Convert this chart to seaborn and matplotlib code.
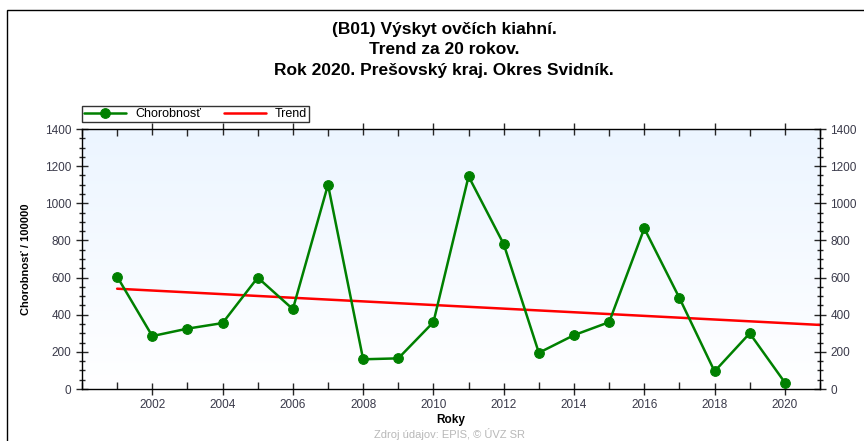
import numpy as np
import matplotlib
matplotlib.use('Agg')
import matplotlib.pyplot as plt
from matplotlib.patches import Rectangle
from matplotlib.ticker import MultipleLocator
import seaborn as sns

# data
years = [2001, 2002, 2003, 2004, 2005, 2006, 2007, 2008, 2009, 2010,
         2011, 2012, 2013, 2014, 2015, 2016, 2017, 2018, 2019, 2020]
chorobnost = [605, 285, 325, 355, 600, 430, 1100, 160, 165, 360,
              1145, 780, 195, 290, 360, 865, 490, 95, 300, 35]
# trend line end points (as drawn in the reference)
trend_years = [2001, 2021]
trend_values = [540, 345]

title = ('(B01) Výskyt ovčích kiahní.\n'
         'Trend za 20 rokov.\n'
         'Rok 2020. Prešovský kraj. Okres Svidník.')

sns.set_style('white')
plt.rcParams['font.family'] = ['Liberation Sans', 'DejaVu Sans']
plt.rcParams['text.color'] = 'black'
plt.rcParams['axes.labelcolor'] = 'black'

fig = plt.figure(figsize=(8.64, 4.41), dpi=100)
ax = fig.add_axes([82/864, 1-389/441, (820-82)/864, (389-129)/441])

# light blue -> white gradient background
grad = np.linspace(0, 1, 256).reshape(-1, 1)
top = np.array([236, 245, 255]) / 255
bot = np.array([255, 255, 255]) / 255
img = top + (bot - top) * grad[..., None]
ax.imshow(img, extent=[0, 1, 0, 1], transform=ax.transAxes,
          aspect='auto', zorder=0)

sns.lineplot(x=years, y=chorobnost, ax=ax, color='#008000', marker='o',
             markersize=7, markeredgecolor='#008000', linewidth=1.8,
             label='Chorobnosť', zorder=3)
sns.lineplot(x=trend_years, y=trend_values, ax=ax, color='#ff0000',
             linewidth=1.8, label='Trend', zorder=2)

ax.set_xlim(2000, 2021)
ax.set_ylim(0, 1400)
ax.xaxis.set_minor_locator(MultipleLocator(1))
ax.yaxis.set_major_locator(MultipleLocator(200))
ax.yaxis.set_minor_locator(MultipleLocator(50))
ax.set_xticks(range(2002, 2021, 2))

ax.tick_params(axis='both', which='major', direction='inout', length=8,
               width=1, labelsize=8.5, labelcolor='#3a3a4a')
ax.tick_params(axis='both', which='minor', direction='inout', length=5,
               width=1)
ax.tick_params(axis='y', which='both', left=True, right=True,
               labelright=True)
ax.tick_params(axis='x', which='both', bottom=True, top=True)
ax.tick_params(axis='x', which='both', top=True, direction='in')
ax.tick_params(axis='x', which='major', bottom=True, direction='inout')
for s in ax.spines.values():
    s.set_color('black')
    s.set_linewidth(1)

ax.set_xlabel('Roky', fontsize=8.5, fontweight='bold', labelpad=2)
ax.set_ylabel('Chorobnosť / 100000', fontsize=8, fontweight='bold',
              labelpad=10)

leg = ax.legend(loc='lower left', bbox_to_anchor=(0, 1.027), ncol=2,
                fontsize=9, frameon=True, fancybox=False, edgecolor='black',
                borderpad=0.15, handlelength=3.4, columnspacing=1.8,
                handletextpad=0.7, borderaxespad=0)
leg.get_frame().set_linewidth(1)

fig.suptitle(title, x=0.514, y=0.95, fontsize=12.5, fontweight='bold',
             linespacing=1.45, color='black')
fig.text(0.52, 1 - 428/441, 'Zdroj údajov: EPIS, © ÚVZ SR', ha='center',
         va='top', fontsize=8, color='#b8b8b8')

fig.patches.append(Rectangle((7/864, -0.1), 1.2, (441-10)/441 + 0.1,
                             transform=fig.transFigure, fill=False,
                             edgecolor='black', linewidth=1))

fig.savefig('out.png', dpi=100)
